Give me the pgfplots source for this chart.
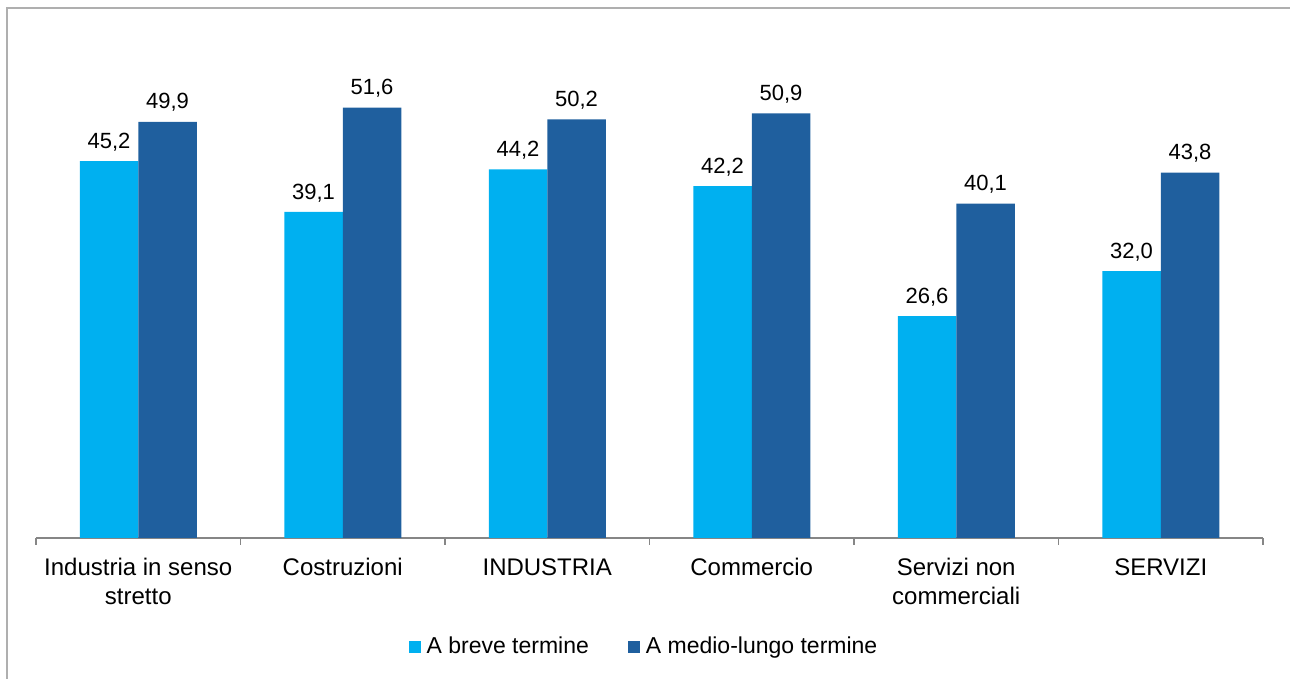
\documentclass[border=0pt]{standalone}
\usepackage{pgfplots}
\pgfplotsset{compat=1.18}
\usepackage{fontspec}
\setmainfont{Liberation Sans}
\definecolor{lightb}{RGB}{0,176,240}
\definecolor{darkb}{RGB}{31,95,158}
\definecolor{axgray}{RGB}{134,134,134}
\definecolor{framegray}{RGB}{175,175,175}
\begin{document}
\begin{tikzpicture}
\path[use as bounding box] (0,0) rectangle (645pt,339.5pt);
\draw[framegray, line width=0.6pt] (3.5pt,0) -- (3.5pt,335.5pt) -- (645pt,335.5pt);
\begin{axis}[
 at={(18pt,70.5pt)}, anchor=south west,
 scale only axis, width=613.5pt, height=250.2pt,
 ymin=0, ymax=60, xmin=-0.5, xmax=5.5,
 axis y line=none, axis x line*=bottom,
 axis line style={axgray, line width=0.6pt},
 ybar=0pt, bar width=29.25pt,
 xtick={0,...,5}, major x tick style={draw=none},
 xticklabels={Industria in senso\\stretto, Costruzioni, INDUSTRIA, Commercio, Servizi non\\commerciali, SERVIZI},
 xticklabel style={align=center, font=\fontsize{12}{14.5}\selectfont, yshift=-2.5pt},
 minor xtick={-0.5,0.5,...,5.5},
 minor tick length=3.5pt,
 tick align=outside,
 minor x tick style={axgray, line width=0.6pt},
 nodes near coords={\pgfmathprintnumber[fixed,fixed zerofill,precision=1,use comma,assume math mode=true]{\pgfplotspointmeta}},
 every node near coord/.append style={font=\fontsize{11}{13}\selectfont, text=black, yshift=1.5pt},
 legend style={at={(0.4963,-0.2178)}, anchor=center, draw=none, legend columns=2, font=\fontsize{11.5}{14}\selectfont, /tikz/every even column/.append style={column sep=17.5pt}},
 legend image code/.code={\fill[#1] (0pt,-3pt) rectangle (6pt,3pt);},
]
\addplot[fill=lightb, draw=none] coordinates {(0,45.2) (1,39.1) (2,44.2) (3,42.2) (4,26.6) (5,32.0)};
\addplot[fill=darkb, draw=none] coordinates {(0,49.9) (1,51.6) (2,50.2) (3,50.9) (4,40.1) (5,43.8)};
\legend{\hspace{1pt}A breve termine, \hspace{1pt}A medio-lungo termine}
\end{axis}
\end{tikzpicture}
\end{document}
